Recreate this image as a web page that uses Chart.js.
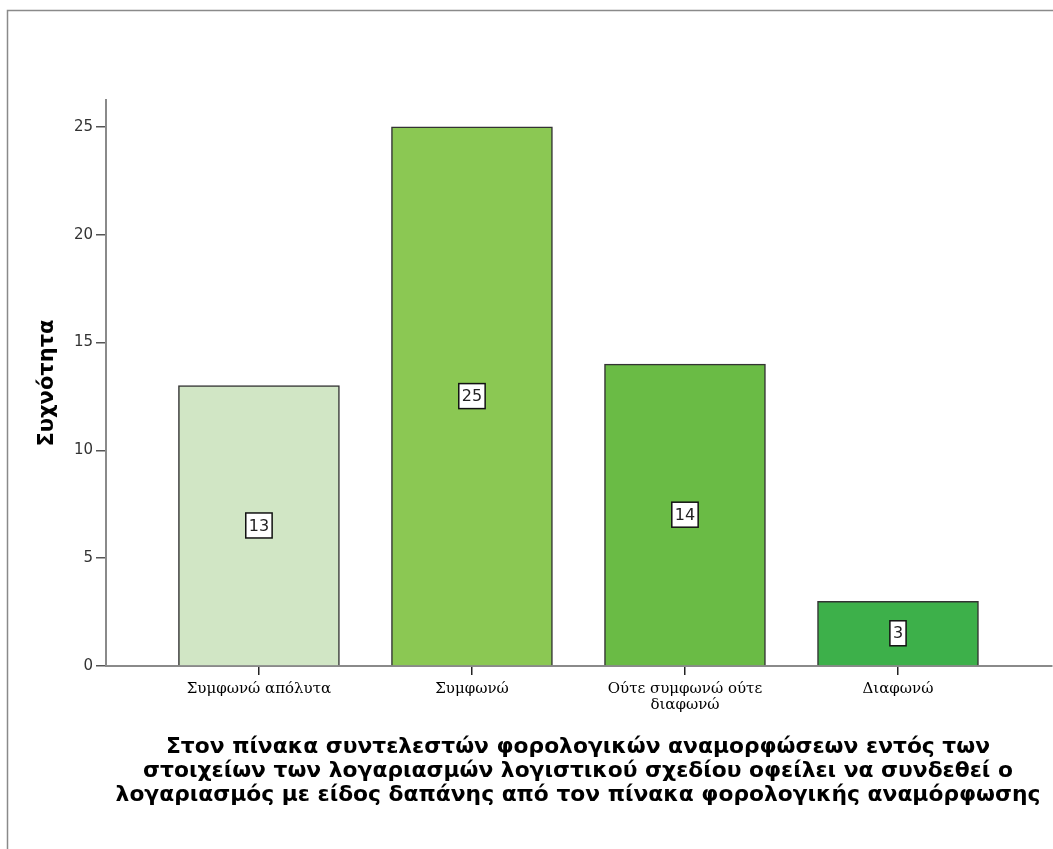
<!DOCTYPE html>
<html>
<head>
<meta charset="utf-8">
<script src="https://cdn.jsdelivr.net/npm/chart.js@4/dist/chart.umd.min.js"></script>
<style>
  html, body { margin: 0; padding: 0; background: #fff; }
  #wrap { width: 1053px; height: 849px; position: relative; }
</style>
</head>
<body>
<div id="wrap"><canvas id="chart"></canvas></div>
<script>
// data
var categories = ['Συμφωνώ απόλυτα', 'Συμφωνώ', 'Ούτε συμφωνώ ούτε διαφωνώ', 'Διαφωνώ'];
var tickLabels = ['Συμφωνώ απόλυτα', 'Συμφωνώ', ['Ούτε συμφωνώ ούτε', 'διαφωνώ'], 'Διαφωνώ'];
var counts = [13, 25, 14, 3];
var barColors = ['#d1e6c5', '#8bc853', '#6abb45', '#3db04a'];
var yTicks = [0, 5, 10, 15, 20, 25];
var yTitle = 'Συχνότητα';
var xTitle = [
    'Στον πίνακα συντελεστών φορολογικών αναμορφώσεων εντός των',
    'στοιχείων των λογαριασμών λογιστικού σχεδίου οφείλει να συνδεθεί ο',
    'λογαριασμός με είδος δαπάνης από τον πίνακα φορολογικής αναμόρφωσης'
];

// frame lines + axis titles
var framePlugin = {
    id: 'frame',
    afterDraw: function (chart) {
        var ctx = chart.ctx;
        var area = chart.chartArea;
        ctx.save();
        ctx.strokeStyle = '#8a8a8a';
        ctx.lineWidth = 1.5;
        ctx.beginPath();
        ctx.moveTo(7.5, 849);
        ctx.lineTo(7.5, 10.5);
        ctx.lineTo(1053, 10.5);
        ctx.stroke();

        ctx.fillStyle = '#000';
        ctx.font = 'bold 21.8px "DejaVu Sans"';
        ctx.textAlign = 'center';
        ctx.textBaseline = 'middle';
        xTitle.forEach(function (line, i) {
            ctx.fillText(line, 578, 747 + i * 24);
        });

        ctx.font = 'bold 21px "DejaVu Sans"';
        ctx.translate(48, (area.top + area.bottom) / 2);
        ctx.rotate(-Math.PI / 2);
        ctx.fillText(yTitle, 0, 0);
        ctx.restore();
    }
};

// boxed value labels in the middle of each bar
var valueBoxes = {
    id: 'valueBoxes',
    afterDatasetsDraw: function (chart) {
        var ctx = chart.ctx;
        var meta = chart.getDatasetMeta(0);
        ctx.save();
        ctx.font = '16px "DejaVu Sans"';
        ctx.textAlign = 'center';
        ctx.textBaseline = 'middle';
        meta.data.forEach(function (bar, i) {
            var txt = String(counts[i]);
            var cy = (bar.y + bar.base) / 2;
            var w = ctx.measureText(txt).width + 6;
            var h = 25;
            ctx.fillStyle = '#fff';
            ctx.fillRect(bar.x - w / 2, cy - h / 2, w, h);
            ctx.strokeStyle = '#111';
            ctx.lineWidth = 1.5;
            ctx.strokeRect(bar.x - w / 2, cy - h / 2, w, h);
            ctx.fillStyle = '#222';
            ctx.fillText(txt, bar.x, cy + 1);
        });
        ctx.restore();
    }
};

new Chart(document.getElementById('chart'), {
    type: 'bar',
    data: {
        datasets: [{
            data: counts.map(function (v, i) { return { x: i, y: v }; }),
            backgroundColor: barColors,
            borderColor: '#333',
            borderWidth: 1.5,
            barThickness: 161
        }]
    },
    options: {
        responsive: true,
        maintainAspectRatio: false,
        animation: false,
        layout: { padding: { top: 100, right: 1, left: 0, bottom: 0 } },
        plugins: {
            legend: { display: false },
            tooltip: { enabled: false }
        },
        scales: {
            x: {
                type: 'linear',
                offset: false,
                min: -0.718,
                max: 3.723,
                afterBuildTicks: function (scale) {
                    scale.ticks = categories.map(function (c, i) { return { value: i }; });
                },
                afterFit: function (scale) { scale.height = 183; },
                ticks: {
                    autoSkip: false,
                    maxRotation: 0,
                    color: '#000',
                    padding: 6,
                    font: { family: '"DejaVu Serif"', size: 15, lineHeight: 1.07 },
                    callback: function (v, i) { return tickLabels[i]; }
                },
                grid: { offset: false, drawOnChartArea: false, drawTicks: true, tickLength: 9, color: '#222', lineWidth: 1.5 },
                border: { color: '#8a8a8a', width: 2 }
            },
            y: {
                min: 0,
                max: 26.25,
                afterBuildTicks: function (scale) {
                    scale.ticks = yTicks.map(function (v) { return { value: v }; });
                },
                afterFit: function (scale) { scale.width = 106; },
                ticks: {
                    color: '#333',
                    padding: 3,
                    font: { family: '"DejaVu Sans"', size: 15 }
                },
                grid: { drawOnChartArea: false, drawTicks: true, tickLength: 10, color: '#555', lineWidth: 1.5 },
                border: { color: '#8a8a8a', width: 2 }
            }
        }
    },
    plugins: [framePlugin, valueBoxes]
});
</script>
</body>
</html>
